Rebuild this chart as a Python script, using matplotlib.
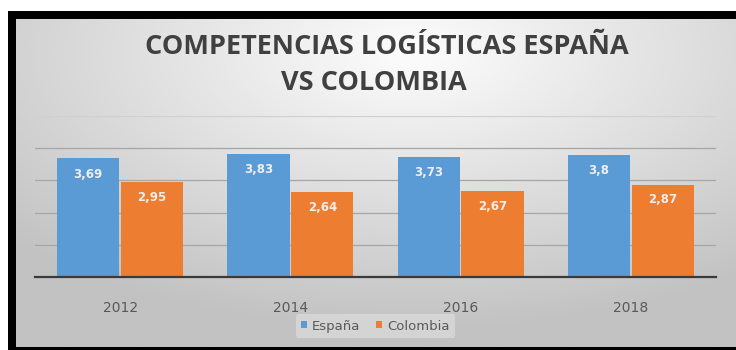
import numpy as np
import matplotlib.pyplot as plt
from matplotlib.patches import Rectangle

# Datos -------------------------------------------------------
anios = ['2012', '2014', '2016', '2018']
espana = [3.69, 3.83, 3.73, 3.8]
colombia = [2.95, 2.64, 2.67, 2.87]
etiq_espana = ['3,69', '3,83', '3,73', '3,8']
etiq_colombia = ['2,95', '2,64', '2,67', '2,87']

W, H = 736, 350
fig = plt.figure(figsize=(W / 100, H / 100), dpi=100)
fig.patch.set_facecolor('white')

def px(x0, y0, x1, y1):
  # rectangulo en pixeles (origen arriba-izquierda) -> fraccion de figura
  return [x0 / W, 1 - y1 / H, (x1 - x0) / W, (y1 - y0) / H]

# marco negro
fig.patches.append(Rectangle((8 / W, 0), 1, 1 - 11 / H, transform=fig.transFigure,
                             facecolor='black', edgecolor='none', zorder=0))

# fondo degradado gris
bg = fig.add_axes(px(16, 19, 736, 347), zorder=1)
yy, xx = np.mgrid[0:1:200j, 0:1:400j]
d = np.sqrt(((xx - 0.55) * 1.0) ** 2 + ((yy - 0.1) * 0.9) ** 2)
val = np.clip(0.99 - 0.30 * d, 0.76, 1.0)
bg.imshow(val, cmap='gray', vmin=0, vmax=1, aspect='auto', interpolation='bicubic')
bg.set_axis_off()

# grafico de barras
ax = fig.add_axes(px(35, 116, 716, 277), zorder=2)
ax.patch.set_alpha(0)
x = np.arange(len(anios))
w = 0.365
b1 = ax.bar(x - 0.1875, espana, w, color='#5B9BD5', zorder=3, label='España')
b2 = ax.bar(x + 0.1875, colombia, w, color='#ED7D31', zorder=3, label='Colombia')

for rect, t in zip(b1, etiq_espana):
  ax.text(rect.get_x() + rect.get_width() / 2, rect.get_height() - 0.5, t,
          ha='center', va='center', color='#eeeeee', fontsize=8.5,
          fontweight='bold', zorder=4)
for rect, t in zip(b2, etiq_colombia):
  ax.text(rect.get_x() + rect.get_width() / 2, rect.get_height() - 0.47, t,
          ha='center', va='center', color='#eeeeee', fontsize=8.5,
          fontweight='bold', zorder=4)

ax.set_xlim(-0.5, 3.5)
ax.set_ylim(0, 5)
ax.set_yticks([1, 2, 3, 4, 5])
ax.yaxis.grid(True, color='#a6a6a6', linewidth=0.9, zorder=1)
ax.get_ygridlines()[-1].set_color('#d0d0d0')
ax.tick_params(axis='y', left=False, labelleft=False)
ax.tick_params(axis='x', bottom=False, colors='#595959', labelsize=10, pad=14)
ax.set_xticks(x)
ax.set_xticklabels(anios)
for s in ['top', 'right', 'left']:
  ax.spines[s].set_visible(False)
ax.spines['bottom'].set_color('#3a3a3a')
ax.spines['bottom'].set_linewidth(1.6)
ax.spines['bottom'].set_zorder(5)

leg = ax.legend(loc='center', bbox_to_anchor=(0.5, -0.305), ncol=2,
                frameon=True, fontsize=9.5, handlelength=0.45, handleheight=0.45,
                handletextpad=0.4, columnspacing=1.2, borderpad=0.4)
leg.get_frame().set_facecolor('#e6e6e6')
leg.get_frame().set_edgecolor('none')
leg.get_frame().set_alpha(0.5)
for t in leg.get_texts():
  t.set_color('#595959')

# titulo
fig.text(387 / W, 1 - 47 / H, 'COMPETENCIAS LOGÍSTICAS ESPAÑA', ha='center', va='center',
         fontsize=19.5, fontweight='bold', color='#404040', family='Open Sans', zorder=5)
fig.text(374 / W, 1 - 83 / H, 'VS COLOMBIA', ha='center', va='center',
         fontsize=19.5, fontweight='bold', color='#404040', family='Open Sans', zorder=5)

fig.savefig('out.png', dpi=100)
